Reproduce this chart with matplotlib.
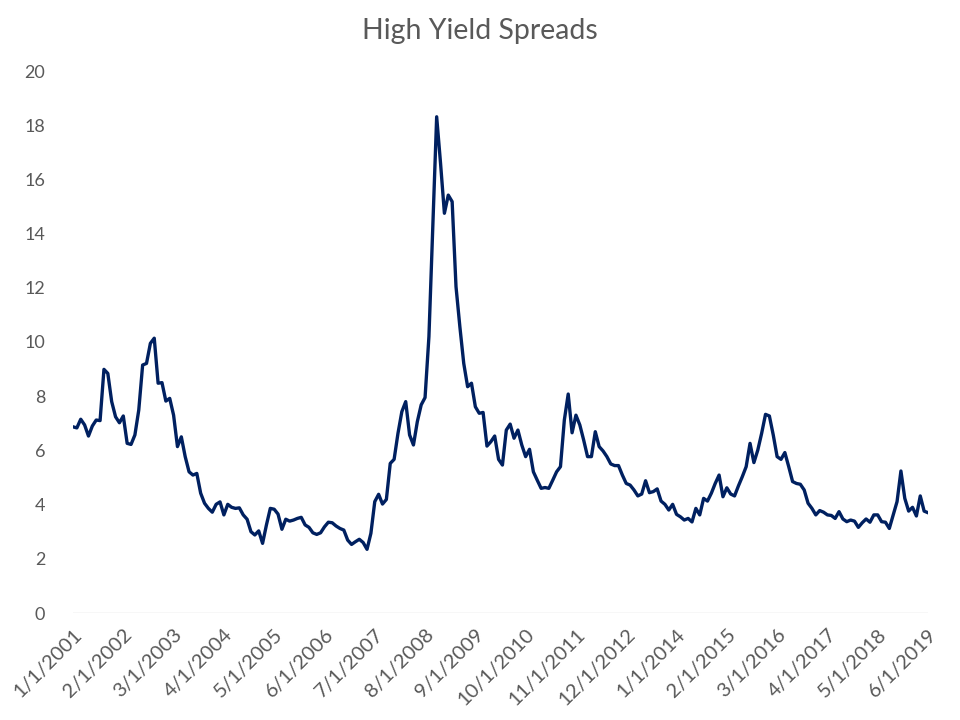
import matplotlib
matplotlib.use("Agg")
import matplotlib.pyplot as plt
import pandas as pd

title = "High Yield Spreads"
start_month = "2001-01-01"
spreads = [
    6.87, 6.83, 7.15, 6.94, 6.53, 6.90, 7.12, 7.10, 8.99, 8.84,
    7.80, 7.24, 7.02, 7.27, 6.26, 6.22, 6.57, 7.49, 9.15, 9.21,
    9.95, 10.14, 8.48, 8.50, 7.82, 7.92, 7.30, 6.14, 6.50, 5.77,
    5.21, 5.09, 5.15, 4.42, 4.05, 3.86, 3.72, 4.01, 4.10, 3.62,
    4.01, 3.90, 3.86, 3.88, 3.62, 3.46, 3.00, 2.88, 3.03, 2.57,
    3.25, 3.86, 3.83, 3.65, 3.09, 3.46, 3.39, 3.43, 3.49, 3.53,
    3.25, 3.16, 2.96, 2.90, 2.96, 3.18, 3.35, 3.33, 3.21, 3.12,
    3.06, 2.69, 2.53, 2.63, 2.72, 2.60, 2.35, 2.94, 4.11, 4.38,
    4.02, 4.19, 5.52, 5.67, 6.63, 7.43, 7.80, 6.57, 6.20, 7.06,
    7.68, 7.95, 10.20, 14.25, 18.31, 16.60, 14.75, 15.42, 15.18, 12.04,
    10.56, 9.21, 8.35, 8.48, 7.61, 7.37, 7.40, 6.16, 6.32, 6.53,
    5.67, 5.46, 6.75, 6.97, 6.45, 6.75, 6.20, 5.77, 6.04, 5.21,
    4.90, 4.60, 4.63, 4.60, 4.90, 5.21, 5.40, 7.12, 8.08, 6.65,
    7.30, 6.94, 6.38, 5.77, 5.77, 6.69, 6.14, 5.98, 5.77, 5.50,
    5.44, 5.44, 5.09, 4.78, 4.72, 4.54, 4.32, 4.39, 4.88, 4.44,
    4.48, 4.58, 4.13, 4.01, 3.80, 4.01, 3.64, 3.55, 3.43, 3.49,
    3.36, 3.86, 3.62, 4.23, 4.13, 4.42, 4.78, 5.09, 4.29, 4.62,
    4.39, 4.32, 4.69, 5.03, 5.40, 6.26, 5.55, 6.01, 6.63, 7.33,
    7.27, 6.57, 5.77, 5.67, 5.92, 5.40, 4.85, 4.78, 4.75, 4.54,
    4.05, 3.86, 3.62, 3.78, 3.72, 3.62, 3.60, 3.49, 3.74, 3.47,
    3.37, 3.43, 3.39, 3.16, 3.33, 3.47, 3.35, 3.62, 3.62, 3.37,
    3.35, 3.12, 3.62, 4.11, 5.24, 4.23, 3.76, 3.90, 3.58, 4.32,
    3.76, 3.70,
]
dates = pd.date_range(start_month, periods=len(spreads), freq="MS")
date_labels = [f"{d.month}/{d.day}/{d.year}" for d in dates]
tick_step = 13
y_ticks = list(range(0, 21, 2))

plt.rcParams["font.family"] = ["Lato", "DejaVu Sans"]
text_color = "#595959"

fig = plt.figure(figsize=(9.6, 7.2), dpi=100)
ax = fig.add_axes([73 / 960, 1 - 613 / 720, (928 - 73) / 960, (613 - 71) / 720])

x = list(range(len(spreads)))
ax.plot(x, spreads, color="#002060", linewidth=2.4, solid_joinstyle="round")

ax.set_xlim(0, len(spreads) - 1)
ax.set_ylim(0, 20)
ax.set_yticks(y_ticks)
ax.set_yticklabels([str(v) for v in y_ticks])
tick_pos = x[::tick_step]
ax.set_xticks(tick_pos)
ax.set_xticklabels([date_labels[i] for i in tick_pos], rotation=45, ha="right",
                   rotation_mode="anchor")

for s in ax.spines.values():
    s.set_visible(False)
ax.axhline(0, color="#d9d9d9", linewidth=1.0, zorder=0)
ax.tick_params(axis="both", length=0, colors=text_color)
ax.tick_params(axis="x", pad=9, labelsize=14.5)
ax.tick_params(axis="y", pad=20, labelsize=13)
for lbl in ax.get_yticklabels():
    lbl.set_horizontalalignment("right")

fig.text(0.5, 1 - 31 / 720, title, ha="center", va="center", fontsize=20.5,
         color=text_color)

fig.savefig("out.png", dpi=100)
